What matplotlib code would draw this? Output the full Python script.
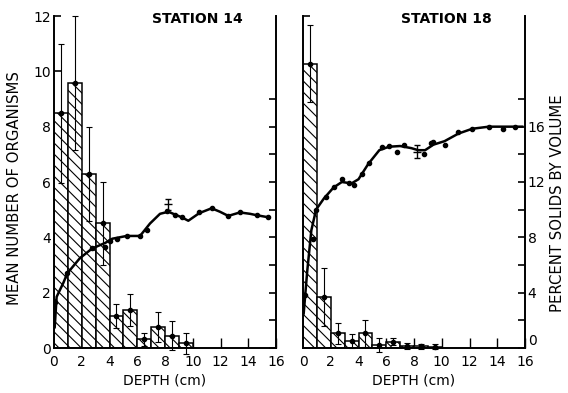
import matplotlib.pyplot as plt
from matplotlib.ticker import MultipleLocator, FixedLocator

plt.rcParams['font.family'] = ['DejaVu Sans']
plt.rcParams['hatch.linewidth'] = 0.8

# depth intervals (cm), left edges of the 1-cm bars
depth_bins = [0, 1, 2, 3, 4, 5, 6, 7, 8, 9]

# mean number of organisms with standard error, station 14 / station 18
st14_mean = [8.48, 9.57, 6.28, 4.51, 1.16, 1.37, 0.32, 0.75, 0.45, 0.17]
st14_err = [2.52, 2.43, 1.70, 1.50, 0.43, 0.58, 0.23, 0.55, 0.52, 0.38]
st18_mean = [10.28, 1.83, 0.53, 0.25, 0.53, 0.10, 0.23, 0.08, 0.06, 0.05]
st18_err = [1.40, 1.05, 0.38, 0.24, 0.48, 0.25, 0.12, 0.10, 0.08, 0.08]

# percent solids by volume: measured points
st14_dot_x = [0.07, 0.96, 2.76, 3.70, 4.00, 4.52, 5.24, 6.20, 6.68, 8.12,
              8.72, 9.20, 10.47, 11.36, 12.56, 13.40, 14.60, 15.45]
st14_dot_y = [3.3, 5.4, 7.2, 7.3, 7.7, 7.85, 8.1, 8.1, 8.5, 9.9,
              9.65, 9.45, 9.8, 10.15, 9.55, 9.85, 9.6, 9.45]
st18_dot_x = [0.15, 0.75, 0.94, 1.67, 2.20, 2.80, 3.30, 3.70, 4.25, 4.73,
              5.70, 6.20, 6.80, 7.28, 8.72, 9.20, 9.40, 10.20, 11.20, 12.20,
              13.40, 14.40, 15.30]
st18_dot_y = [3.8, 7.9, 10.0, 10.9, 11.65, 12.2, 11.95, 11.75, 12.6, 13.35,
              14.5, 14.6, 14.15, 14.65, 14.0, 14.8, 14.9, 14.7, 15.6, 15.85,
              16.0, 15.85, 16.0]

# percent solids: hand-fitted curve
st14_curve_x = [0.05, 0.19, 0.67, 0.96, 1.87, 2.76, 3.70, 4.20, 5.24, 6.20,
                6.92, 7.64, 8.24, 8.72, 9.20, 9.68, 10.47, 11.36, 11.96, 12.56,
                13.40, 14.13, 14.60, 15.45]
st14_curve_y = [1.5, 3.7, 4.7, 5.4, 6.5, 7.2, 7.6, 7.9, 8.1, 8.1,
                9.0, 9.7, 9.85, 9.65, 9.45, 9.2, 9.75, 10.1, 9.85, 9.55,
                9.8, 9.7, 9.6, 9.45]
st18_curve_x = [0.05, 0.30, 0.60, 0.94, 1.50, 2.20, 2.80, 3.50, 4.00, 4.70,
                5.50, 6.20, 7.00, 7.80, 8.30, 8.80, 9.40, 10.20, 11.20, 12.20,
                13.40, 14.40, 15.30, 15.80]
st18_curve_y = [2.5, 5.5, 8.5, 10.0, 10.8, 11.6, 12.0, 11.9, 12.2, 13.3,
                14.3, 14.55, 14.6, 14.45, 14.3, 14.3, 14.7, 14.95, 15.5, 15.85,
                16.0, 16.0, 16.0, 16.0]

# single replicate error bar on each curve
st14_rep = (8.24, 10.4, 0.4)
st18_rep = (8.25, 14.2, 0.5)

fig = plt.figure(figsize=(5.68, 3.93), dpi=100)
axes = [fig.add_axes([54 / 568, 45 / 393, 222 / 568, 332 / 393]),
        fig.add_axes([303 / 568, 45 / 393, 222 / 568, 332 / 393])]
panels = [
    ('STATION 14', st14_mean, st14_err, st14_dot_x, st14_dot_y,
     st14_curve_x, st14_curve_y, st14_rep),
    ('STATION 18', st18_mean, st18_err, st18_dot_x, st18_dot_y,
     st18_curve_x, st18_curve_y, st18_rep),
]

for i, (ax, (title, mean, err, dx, dy, cx, cy, rep)) in enumerate(zip(axes, panels)):
    ax.bar(depth_bins, mean, width=1, align='edge', facecolor='white',
           edgecolor='black', linewidth=1.1, hatch='\\' * 3, zorder=2)
    mids = [d + 0.5 for d in depth_bins]
    ax.errorbar(mids, mean, yerr=err, fmt='o', color='black', ms=3,
                elinewidth=0.8, capsize=2, capthick=0.8, zorder=3, clip_on=False)
    ax.set_xlim(0, 16)
    ax.set_ylim(0, 12)
    ax.xaxis.set_major_locator(MultipleLocator(2))
    ax.yaxis.set_major_locator(MultipleLocator(2))
    ax.tick_params(axis='x', direction='in', length=7, width=1, labelsize=10, pad=5)
    ax.tick_params(axis='y', direction='in', length=5, width=1.2, labelsize=10, pad=2)
    for s in ['top', 'right']:
        ax.spines[s].set_visible(False)
    for s in ['left', 'bottom']:
        ax.spines[s].set_linewidth(1.4)
    if i == 1:
        ax.tick_params(axis='y', labelleft=False)
    ax.set_xlabel('DEPTH (cm)', fontsize=10, labelpad=3)
    ax.text(10.3, 11.88, title, ha='center', va='center', fontsize=10,
            fontweight='bold')

    tw = ax.twinx()
    tw.set_ylim(0, 24)
    for s in ['top', 'left', 'bottom']:
        tw.spines[s].set_visible(False)
    tw.spines['right'].set_linewidth(1.4)
    tw.yaxis.set_major_locator(FixedLocator([0, 4, 8, 12, 16]))
    tw.yaxis.set_minor_locator(FixedLocator([2, 6, 10, 14, 18]))
    tw.tick_params(axis='y', which='both', direction='in', length=5, width=1.2,
                   labelsize=10, pad=2)
    if i == 0:
        tw.tick_params(axis='y', labelright=False)
    else:
        # the "0" sits just above the corner, as in the original
        tw.get_yticklabels()[0].set_va('bottom')
    tw.plot(cx, cy, color='black', lw=1.8, zorder=4)
    tw.plot(dx, dy, 'o', color='black', ms=3, zorder=5)
    tw.errorbar([rep[0]], [rep[1]], yerr=[rep[2]], fmt='_', color='black',
                ms=6, mew=1, elinewidth=1, capsize=2.5, capthick=1, zorder=5)

fig.text(0.025, 0.522, 'MEAN NUMBER OF ORGANISMS', rotation=90,
         ha='center', va='center', fontsize=10.7)
fig.text(0.981, 0.483, 'PERCENT SOLIDS BY VOLUME', rotation=90,
         ha='center', va='center', fontsize=10.7)

fig.savefig('out.png', dpi=100)
